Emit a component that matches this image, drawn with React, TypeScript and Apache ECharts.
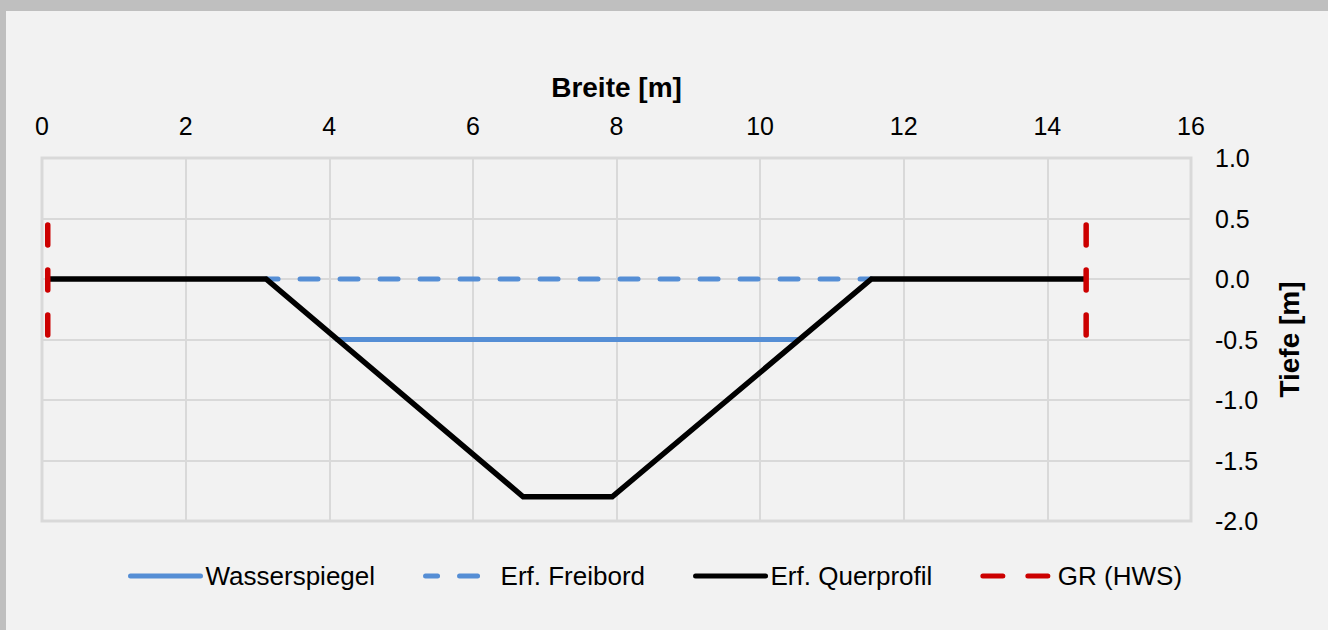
import React, { useEffect, useRef } from "react";
import * as echarts from "echarts";

const xTicks = { min: 0, max: 16, interval: 2 };
const yTicks = { min: -2, max: 1, interval: 0.5 };

const querprofilX = [0.08, 3.12, 6.7, 7.94, 11.55, 14.54];
const querprofilY = [0, 0, -1.8, -1.8, 0, 0];

const wasserspiegelX = [4.11, 10.52];
const wasserspiegelY = [-0.5, -0.5];

const freibordX = [3.12, 11.55];
const freibordY = [0, 0];

const grLeftX = [0.08, 0.08];
const grRightX = [14.54, 14.54];
const grY = [0.446, -0.463];

const zip = (xs: number[], ys: number[]) => xs.map((x, i) => [x, ys[i]]);

const FONT = "'Liberation Sans', Arial, sans-serif";

export default function App() {
  const ref = useRef<HTMLDivElement>(null);
  useEffect(() => {
    document.body.style.margin = "0";
    const chart = echarts.init(ref.current!, undefined, { renderer: "svg" });
    const blue = "#558ed5";
    const red = "#cc0000";
    chart.setOption({
      animation: false,
      backgroundColor: "#f2f2f2",
      textStyle: { fontFamily: FONT },
      grid: {
        left: 36,
        right: 137,
        top: 147,
        bottom: 109,
        show: true,
        borderColor: "#d9d9d9",
        borderWidth: 3,
        backgroundColor: "transparent",
      },
      legend: {
        left: 122,
        top: 552,
        padding: 0,
        itemWidth: 70,
        itemHeight: 14,
        itemGap: 48,
        itemStyle: { opacity: 0 },
        lineStyle: { width: 5, cap: "round" },
        textStyle: { fontSize: 26, color: "#000", fontFamily: FONT },
        data: ["Wasserspiegel", "Erf. Freibord", "Erf. Querprofil", "GR (HWS)"],
      },
      xAxis: {
        type: "value",
        position: "top",
        min: xTicks.min,
        max: xTicks.max,
        interval: xTicks.interval,
        name: "Breite [m]",
        nameLocation: "middle",
        nameGap: 57,
        nameTextStyle: { fontSize: 28, fontWeight: "bold", color: "#000", fontFamily: FONT },
        axisLine: { show: false },
        axisTick: { show: false },
        axisLabel: { fontSize: 25, color: "#000", margin: 20, fontFamily: FONT },
        splitLine: { show: true, lineStyle: { color: "#d9d9d9", width: 2 } },
      },
      yAxis: {
        type: "value",
        position: "right",
        min: yTicks.min,
        max: yTicks.max,
        interval: yTicks.interval,
        name: "Tiefe [m]",
        nameLocation: "middle",
        nameRotate: 90,
        nameGap: 84,
        nameTextStyle: { fontSize: 28, fontWeight: "bold", color: "#000", fontFamily: FONT },
        axisLine: { show: false },
        axisTick: { show: false },
        axisLabel: {
          fontSize: 25,
          color: "#000",
          margin: 24,
          fontFamily: FONT,
          formatter: (v: number) => v.toFixed(1),
        },
        splitLine: { show: true, lineStyle: { color: "#d9d9d9", width: 2 } },
      },
      series: [
        {
          name: "Wasserspiegel",
          type: "line",
          symbol: "none",
          data: zip(wasserspiegelX, wasserspiegelY),
          lineStyle: { color: blue, width: 5, cap: "round" },
          itemStyle: { color: blue },
          z: 2,
        },
        {
          name: "Erf. Freibord",
          type: "line",
          symbol: "none",
          data: zip(freibordX, freibordY),
          lineStyle: { color: blue, width: 5, type: [18, 22], dashOffset: 6, cap: "round" },
          itemStyle: { color: blue },
          z: 2,
        },
        {
          name: "Erf. Querprofil",
          type: "line",
          symbol: "none",
          data: zip(querprofilX, querprofilY),
          lineStyle: { color: "#000", width: 5.5, join: "miter" },
          itemStyle: { color: "#000" },
          z: 3,
        },
        {
          name: "GR (HWS)",
          type: "line",
          symbol: "none",
          data: zip(grLeftX, grY),
          lineStyle: { color: red, width: 5.5, type: [20, 25], cap: "round" },
          itemStyle: { color: red },
          z: 4,
        },
        {
          name: "GR (HWS)",
          type: "line",
          symbol: "none",
          data: zip(grRightX, grY),
          lineStyle: { color: red, width: 5.5, type: [20, 25], cap: "round" },
          itemStyle: { color: red },
          z: 4,
        },
      ],
    });
    return () => chart.dispose();
  }, []);
  return (
    <div
      style={{
        position: "absolute",
        left: 0,
        top: 0,
        width: 1328,
        height: 630,
        background: "#bfbfbf",
      }}
    >
      <div
        ref={ref}
        style={{ position: "absolute", left: 6, top: 11, width: 1322, height: 619 }}
      />
    </div>
  );
}
